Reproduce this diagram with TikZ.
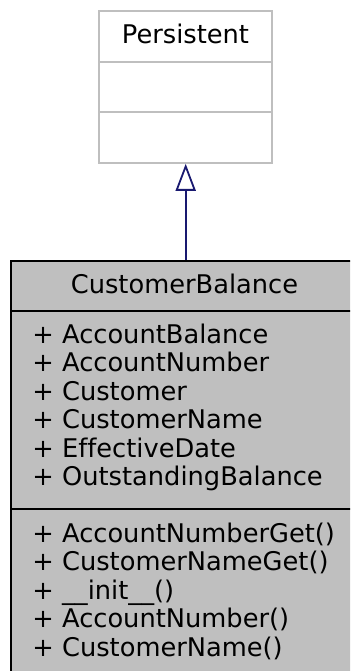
\documentclass[tikz,border=0pt]{standalone}
\usepackage{fontspec}
\setmainfont{DejaVu Sans}[Ligatures=NoCommon]
\usetikzlibrary{arrows.meta}
\definecolor{boxgray}{HTML}{BFBFBF}
\definecolor{edgeblue}{HTML}{191970}
\tikzset{
  txt/.style={inner sep=0pt, font=\fontsize{12.85pt}{14pt}\selectfont},
  linetxt/.style={txt, anchor=base west},
  basebox/.style={draw=boxgray, line width=0.75pt, fill=white, inner sep=0pt},
  mainbox/.style={draw=black, line width=1pt, fill=boxgray, inner sep=0pt},
  inherit/.style={draw=edgeblue, line width=0.9pt, -{Triangle[open, length=13.5pt, width=10pt]}},
}
\begin{document}
\begin{tikzpicture}[x=0.5pt, y=-0.5pt]
\useasboundingbox (0,0) rectangle (350,671);
\clip (0,0) rectangle (350,671);
% base class box
\node[basebox, minimum width=86.5pt, minimum height=76pt] (persistent) at (185.5,87) {};
\draw[boxgray, line width=0.75pt] (persistent.west |- 0,62) -- (persistent.east |- 0,62);
\draw[boxgray, line width=0.75pt] (persistent.west |- 0,112) -- (persistent.east |- 0,112);
\node[txt, anchor=base] (ptitle) at (185.5,43) {Persistent};
% derived class box
\node[mainbox, minimum width=174.5pt, minimum height=219.5pt] (cb) at (185.5,480.5) {};
\draw[black, line width=1pt] (cb.west |- 0,311) -- (cb.east |- 0,311);
\draw[black, line width=1pt] (cb.west |- 0,509) -- (cb.east |- 0,509);
\node[txt, anchor=base] (cbtitle) at (184.5,293) {CustomerBalance};
% attributes
\node[linetxt] (a1) at (32,343) {+ AccountBalance};
\node[linetxt] (a2) at (32,371.5) {+ AccountNumber};
\node[linetxt] (a3) at (32,400) {+ Customer};
\node[linetxt] (a4) at (32,428.5) {+ CustomerName};
\node[linetxt] (a5) at (32,457) {+ EffectiveDate};
\node[linetxt] (a6) at (32,485.5) {+ OutstandingBalance};
% methods
\node[linetxt] (m1) at (32,542) {+ AccountNumberGet()};
\node[linetxt] (m2) at (32,570.5) {+ CustomerNameGet()};
\node[linetxt] (m3) at (32,599) {+ \_\_init\_\_()};
\node[linetxt] (m4) at (32,627.5) {+ AccountNumber()};
\node[linetxt] (m5) at (32,656) {+ CustomerName()};
% inheritance
\draw[inherit] (cb.north -| 185.7,0) -- (persistent.south -| 185.7,0);
\end{tikzpicture}
\end{document}
